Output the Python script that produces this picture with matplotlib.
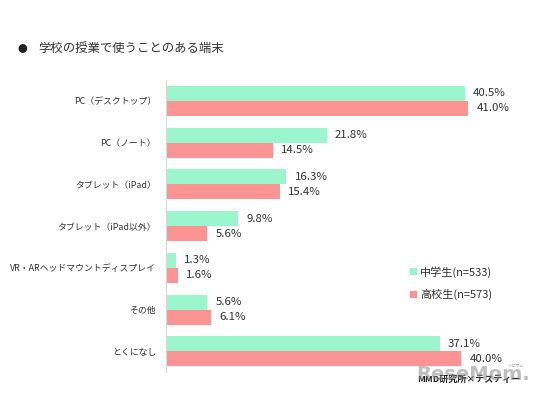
import matplotlib.pyplot as plt
import numpy as np

plt.rcParams['font.family'] = ['Noto Sans CJK JP', 'DejaVu Sans']

categories = ["PC（デスクトップ）", "PC（ノート）", "タブレット（iPad）", "タブレット（iPad以外）",
              "VR・ARヘッドマウントディスプレイ", "その他", "とくになし"]
junior_high = [40.5, 21.8, 16.3, 9.8, 1.3, 5.6, 37.1]
high_school = [41.0, 14.5, 15.4, 5.6, 1.6, 6.1, 40.0]
series_names = ["中学生(n=533)", "高校生(n=573)"]

GREEN = "#9cf6cd"
RED = "#fb9492"
TEXT = "#333333"

fig = plt.figure(figsize=(5.44, 3.98), dpi=100)
ax = fig.add_axes([0.305, 0.065, 0.678, 0.734])

y = np.arange(len(categories))
h = 0.36
b1 = ax.barh(y - h / 2, junior_high, height=h, color=GREEN, label=series_names[0])
b2 = ax.barh(y + h / 2, high_school, height=h, color=RED, label=series_names[1])

for bars, vals in ((b1, junior_high), (b2, high_school)):
    for bar, v in zip(bars, vals):
        ax.annotate(f"{v:.1f}%", (bar.get_width(), bar.get_y() + bar.get_height() / 2),
                    xytext=(6, 0), textcoords="offset points", ha="left", va="center",
                    fontsize=8.2, color=TEXT)

ax.set_xlim(0, 50)
ax.set_ylim(len(categories) - 0.5, -0.5)
ax.set_yticks(y)
ax.set_yticklabels(categories, fontsize=6.4, color=TEXT)
ax.tick_params(axis="y", length=0, pad=7)
ax.set_xticks([])
for s in ["top", "right", "bottom"]:
    ax.spines[s].set_visible(False)
ax.spines["left"].set_color("#d9d9d9")
ax.spines["left"].set_linewidth(0.8)

leg = ax.legend(loc="upper left", bbox_to_anchor=(0.635, 0.397), frameon=False,
                fontsize=8, handlelength=0.6, handleheight=0.6, handletextpad=0.3,
                labelspacing=1.0)
for t in leg.get_texts():
    t.set_color(TEXT)

# title
fig.text(0.033, 0.878, "●", fontsize=7, color="#222222", va="center")
fig.text(0.07, 0.878, "学校の授業で使うことのある端末", fontsize=8.9, color=TEXT, va="center")

# source and watermark
fig.text(0.957, 0.048, "MMD研究所×テスティー", fontsize=6.5, fontweight="bold", color="#222222",
         ha="right", va="center")
fig.text(0.975, 0.06, "ReseMom.", fontsize=14, fontweight="bold", color="#8c8c8c",
         alpha=0.55, ha="right", va="center", family="DejaVu Sans")
fig.text(0.962, 0.08, "リセマム", fontsize=3, color="#9a9a9a", ha="right", va="center")

fig.savefig("out.png", dpi=100, facecolor="white")
